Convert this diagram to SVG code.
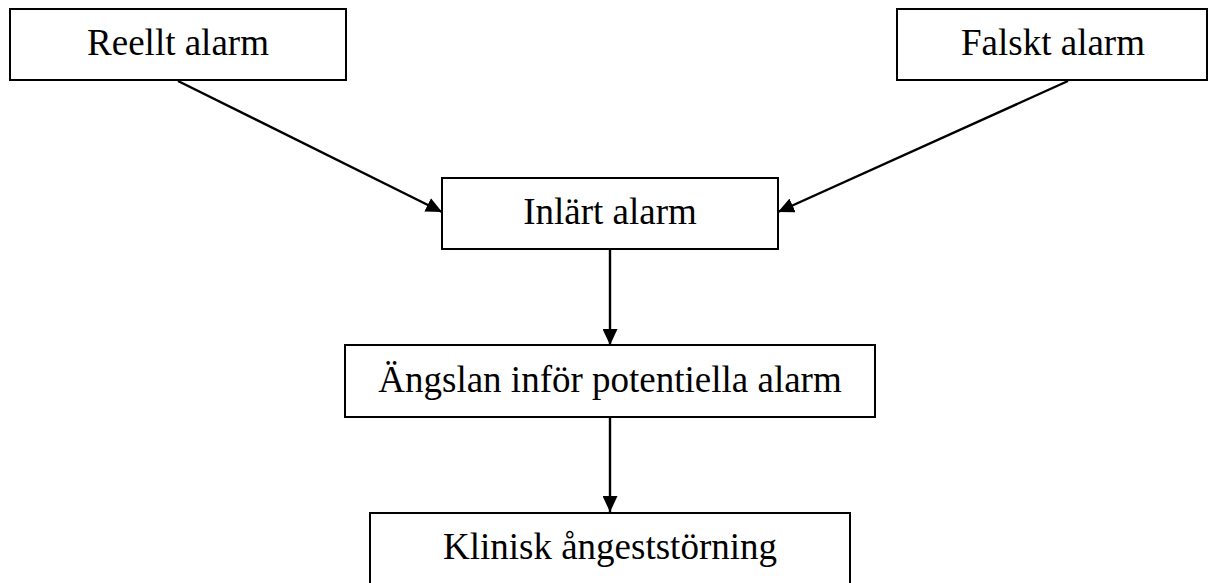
<svg xmlns="http://www.w3.org/2000/svg" width="1208" height="583" viewBox="0 0 1208 583">
<style>
.box{fill:#fff;stroke:#000;stroke-width:2}
.lbl{font-family:"Liberation Serif","Times New Roman",serif;font-size:37px;fill:#000;text-anchor:middle}
.conn{stroke:#000;stroke-width:2.4;fill:none;marker-end:url(#ah)}
</style>
<defs>
<marker id="ah" viewBox="0 0 16 15" refX="16" refY="7.5" markerWidth="16" markerHeight="15" markerUnits="userSpaceOnUse" orient="auto">
<path d="M0,0 L16,7.5 L0,15 z" fill="#000"/>
</marker>
</defs>
<rect width="1208" height="583" fill="#fff"/>
<g id="connectors">
<line class="conn" x1="178" y1="81" x2="442" y2="212"/>
<line class="conn" x1="1068" y1="81" x2="778" y2="212"/>
<line class="conn" x1="610" y1="249" x2="610" y2="345"/>
<line class="conn" x1="610" y1="417" x2="610" y2="512"/>
</g>
<g id="reellt">
<rect class="box" x="10" y="9" width="336" height="71"/>
<text class="lbl" x="178" y="55">Reellt alarm</text>
</g>
<g id="falskt">
<rect class="box" x="897" y="9" width="310" height="71"/>
<text class="lbl" x="1053" y="55">Falskt alarm</text>
</g>
<g id="inlart">
<rect class="box" x="442" y="178" width="336" height="71"/>
<text class="lbl" x="610" y="224">Inlärt alarm</text>
</g>
<g id="angslan">
<rect class="box" x="345" y="345" width="530" height="72"/>
<text class="lbl" x="610" y="392">Ängslan inför potentiella alarm</text>
</g>
<g id="klinisk">
<rect class="box" x="370" y="513" width="480" height="90"/>
<text class="lbl" x="610" y="559">Klinisk ångeststörning</text>
</g>
</svg>
